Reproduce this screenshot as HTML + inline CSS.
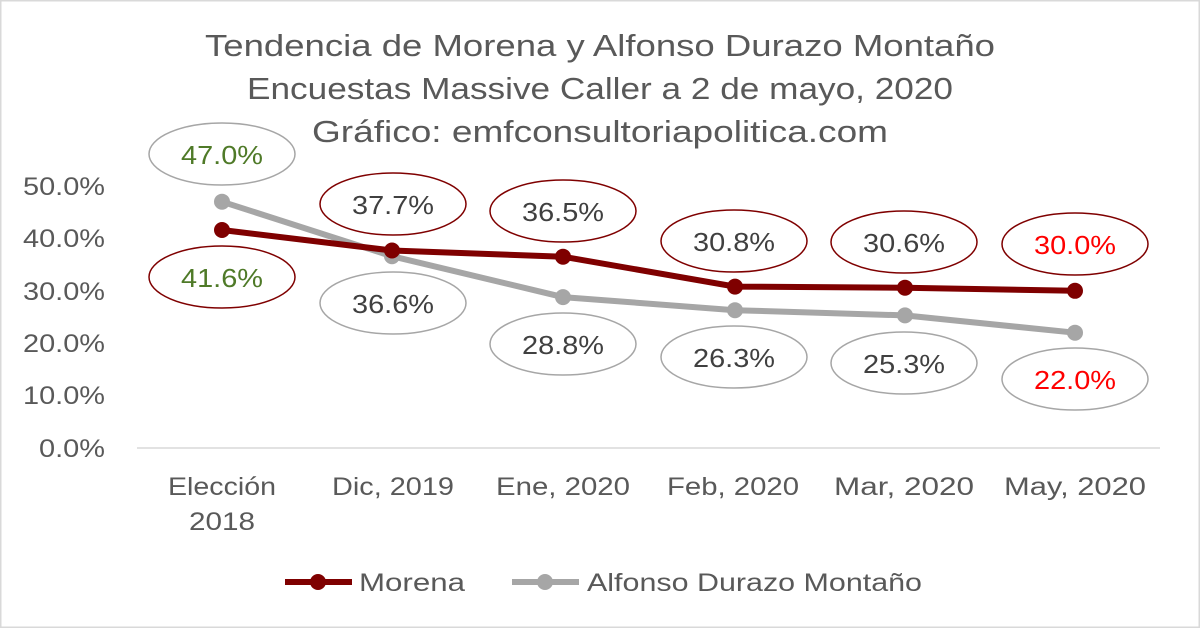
<!DOCTYPE html>
<html><head><meta charset="utf-8"><style>
html,body{margin:0;padding:0;background:#fff}
</style></head><body>
<svg width="1200" height="628" viewBox="0 0 1200 628" xmlns="http://www.w3.org/2000/svg" style="display:block;font-family:'Liberation Sans',sans-serif">
<rect x="0.5" y="0.5" width="1199" height="627" fill="#fff" stroke="#d9d9d9" stroke-width="2"/>
<g fill="#595959" font-size="31" text-anchor="middle" lengthAdjust="spacingAndGlyphs">
<text x="600" y="56" textLength="790" lengthAdjust="spacingAndGlyphs">Tendencia de Morena y Alfonso Durazo Montaño</text>
<text x="600" y="99" textLength="706" lengthAdjust="spacingAndGlyphs">Encuestas Massive Caller a 2 de mayo, 2020</text>
<text x="600" y="142" textLength="576" lengthAdjust="spacingAndGlyphs">Gráfico: emfconsultoriapolitica.com</text>
</g>
<g fill="#595959" font-size="25" text-anchor="end">
<text x="105" y="195" textLength="82" lengthAdjust="spacingAndGlyphs">50.0%</text>
<text x="105" y="247" textLength="82" lengthAdjust="spacingAndGlyphs">40.0%</text>
<text x="105" y="300" textLength="82" lengthAdjust="spacingAndGlyphs">30.0%</text>
<text x="105" y="352" textLength="82" lengthAdjust="spacingAndGlyphs">20.0%</text>
<text x="105" y="404" textLength="82" lengthAdjust="spacingAndGlyphs">10.0%</text>
<text x="105" y="457" textLength="66" lengthAdjust="spacingAndGlyphs">0.0%</text>
</g>
<line x1="137" y1="448" x2="1160" y2="448" stroke="#d9d9d9" stroke-width="1.5"/>
<g fill="#595959" font-size="25" text-anchor="middle">
<text x="222" y="495" textLength="108" lengthAdjust="spacingAndGlyphs">Elección</text><text x="222" y="530" textLength="66" lengthAdjust="spacingAndGlyphs">2018</text>
<text x="393" y="495" textLength="122" lengthAdjust="spacingAndGlyphs">Dic, 2019</text>
<text x="563" y="495" textLength="134" lengthAdjust="spacingAndGlyphs">Ene, 2020</text>
<text x="733" y="495" textLength="132" lengthAdjust="spacingAndGlyphs">Feb, 2020</text>
<text x="904" y="495" textLength="140" lengthAdjust="spacingAndGlyphs">Mar, 2020</text>
<text x="1075" y="495" textLength="142" lengthAdjust="spacingAndGlyphs">May, 2020</text>
</g>
<polyline points="222,201.7 392,256.2 563,297.1 735,310.2 905,315.4 1075,332.7" fill="none" stroke="#a6a6a6" stroke-width="6"/>
<g fill="#a6a6a6"><circle cx="222" cy="201.7" r="8"/><circle cx="392" cy="256.2" r="8"/><circle cx="563" cy="297.1" r="8"/><circle cx="735" cy="310.2" r="8"/><circle cx="905" cy="315.4" r="8"/><circle cx="1075" cy="332.7" r="8"/></g>
<polyline points="222,230 392,250.5 563,256.7 735,286.6 905,287.7 1075,290.8" fill="none" stroke="#7f0000" stroke-width="6"/>
<g fill="#7f0000"><circle cx="222" cy="230" r="8"/><circle cx="392" cy="250.5" r="8"/><circle cx="563" cy="256.7" r="8"/><circle cx="735" cy="286.6" r="8"/><circle cx="905" cy="287.7" r="8"/><circle cx="1075" cy="290.8" r="8"/></g>
<g fill="#fff" stroke-width="1.5">
<ellipse cx="222" cy="154" rx="73" ry="31" stroke="#a6a6a6"/>
<ellipse cx="222" cy="277" rx="73" ry="31" stroke="#7f0000"/>
<ellipse cx="393" cy="204" rx="73" ry="31" stroke="#7f0000"/>
<ellipse cx="393" cy="303" rx="73" ry="31" stroke="#a6a6a6"/>
<ellipse cx="563" cy="211" rx="73" ry="31" stroke="#7f0000"/>
<ellipse cx="563" cy="344" rx="73" ry="31" stroke="#a6a6a6"/>
<ellipse cx="734" cy="241" rx="73" ry="31" stroke="#7f0000"/>
<ellipse cx="734" cy="357" rx="73" ry="31" stroke="#a6a6a6"/>
<ellipse cx="904" cy="242" rx="73" ry="31" stroke="#7f0000"/>
<ellipse cx="904" cy="363" rx="73" ry="31" stroke="#a6a6a6"/>
<ellipse cx="1075" cy="244" rx="73" ry="31" stroke="#7f0000"/>
<ellipse cx="1075" cy="379" rx="73" ry="31" stroke="#a6a6a6"/>
</g>
<g font-size="26" text-anchor="middle" fill="#404040">
<text x="222" y="164" fill="#4f7a28" textLength="82" lengthAdjust="spacingAndGlyphs">47.0%</text>
<text x="222" y="287" fill="#4f7a28" textLength="82" lengthAdjust="spacingAndGlyphs">41.6%</text>
<text x="393" y="214" textLength="82" lengthAdjust="spacingAndGlyphs">37.7%</text>
<text x="393" y="313" textLength="82" lengthAdjust="spacingAndGlyphs">36.6%</text>
<text x="563" y="221" textLength="82" lengthAdjust="spacingAndGlyphs">36.5%</text>
<text x="563" y="354" textLength="82" lengthAdjust="spacingAndGlyphs">28.8%</text>
<text x="734" y="251" textLength="82" lengthAdjust="spacingAndGlyphs">30.8%</text>
<text x="734" y="367" textLength="82" lengthAdjust="spacingAndGlyphs">26.3%</text>
<text x="904" y="252" textLength="82" lengthAdjust="spacingAndGlyphs">30.6%</text>
<text x="904" y="373" textLength="82" lengthAdjust="spacingAndGlyphs">25.3%</text>
<text x="1075" y="254" fill="#ff0000" textLength="82" lengthAdjust="spacingAndGlyphs">30.0%</text>
<text x="1075" y="389" fill="#ff0000" textLength="82" lengthAdjust="spacingAndGlyphs">22.0%</text>
</g>
<line x1="285" y1="582" x2="352" y2="582" stroke="#7f0000" stroke-width="6"/>
<circle cx="318" cy="582" r="8" fill="#7f0000"/>
<text x="359" y="591" font-size="25" fill="#595959" textLength="106" lengthAdjust="spacingAndGlyphs">Morena</text>
<line x1="512" y1="582" x2="579" y2="582" stroke="#a6a6a6" stroke-width="6"/>
<circle cx="545" cy="582" r="8" fill="#a6a6a6"/>
<text x="587" y="591" font-size="25" fill="#595959" textLength="335" lengthAdjust="spacingAndGlyphs">Alfonso Durazo Montaño</text>
</svg>
</body></html>
